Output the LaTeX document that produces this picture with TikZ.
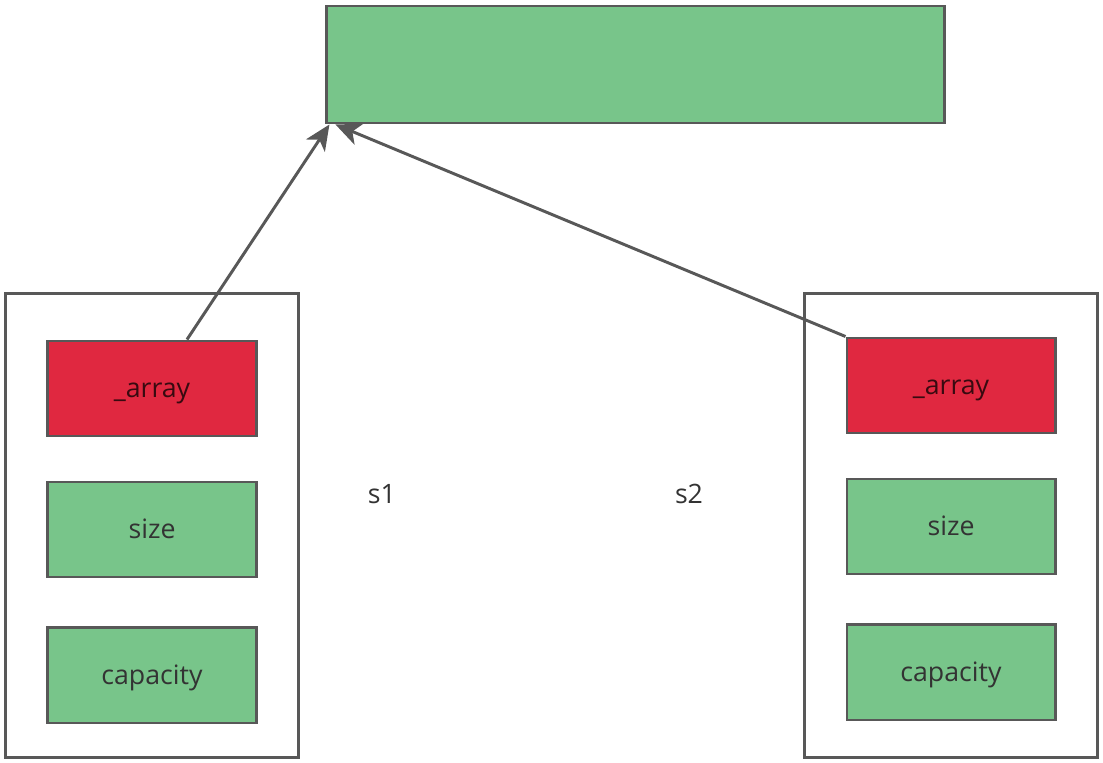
\documentclass[tikz,border=0pt]{standalone}
\usepackage{fontspec}
\setmainfont{Open Sans}
\usepackage{xcolor}
\usetikzlibrary{positioning,arrows.meta}

\definecolor{fieldgreen}{HTML}{78C58A}
\definecolor{fieldred}{HTML}{E02840}
\definecolor{edgegray}{HTML}{585858}

\begin{document}
\begin{tikzpicture}[
  x=0.025cm, y=-0.025cm,
  node distance=1.15cm,
  frame/.style={draw=edgegray, line width=2.1pt, minimum width=7.3cm, minimum height=11.575cm, inner sep=0pt},
  field/.style={draw=edgegray, line width=2.1pt, fill=fieldgreen, minimum width=5.2cm, minimum height=2.375cm, inner sep=0pt, text=black!80, font=\fontsize{19}{22}\selectfont, text height=2.8ex, text depth=0.35ex},
  hot/.style={field, fill=fieldred, text=black!75!fieldred},
  label/.style={font=\fontsize{19}{22}\selectfont, text=black!80},
  arrow/.style={-{Stealth[length=18pt, width=16pt, inset=5pt]}, draw=edgegray, line width=2.1pt}
]
\useasboundingbox (0,0) rectangle (1103,762);

\node[field, minimum width=15.425cm, minimum height=2.925cm] (buf) at (635.5,64.5) {};

% s1
\node[frame] (s1) at (152,525.5) {};
\node[hot] (arr1) at (152,388.5) {\_array};
\node[field, below=1.075cm of arr1] (size1) {size};
\node[field, below=1.2cm of size1] (cap1) {capacity};

% s2
\node[frame] (s2) at (951,525.5) {};
\node[hot] (arr2) at (951,385.5) {\_array};
\node[field, below=1.075cm of arr2] (size2) {size};
\node[field, below=1.2cm of size2] (cap2) {capacity};

\node[label] (name1) at (382,494) {s1};
\node[label] (name2) at (689,494) {s2};

\draw[arrow] ([xshift=0.875cm]arr1.north) -- ([xshift=0.1cm]buf.south west);
\draw[arrow] (arr2.north west) -- ([xshift=0.25cm]buf.south west);
\end{tikzpicture}
\end{document}
